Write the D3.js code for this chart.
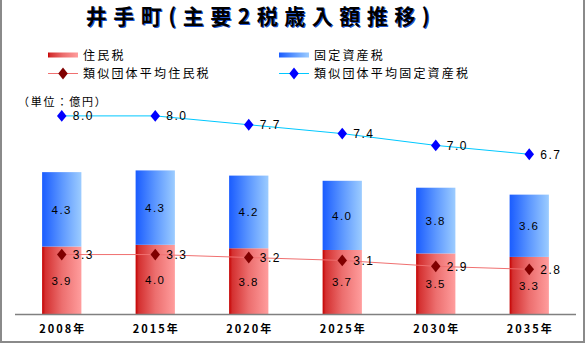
<!DOCTYPE html>
<html><head><meta charset="utf-8">
<script src="https://cdn.jsdelivr.net/npm/d3@7/dist/d3.min.js"></script>
<style>
html,body{margin:0;padding:0;background:#fff;}
text{font-family:"Noto Sans CJK JP","Noto Sans",sans-serif;}
.num{font-family:"Liberation Sans","DejaVu Sans",sans-serif;}
</style></head>
<body>
<svg id="c" width="587" height="344"></svg>
<script>
const years = ["2008年","2015年","2020年","2025年","2030年","2035年"];
const juminzei = [3.9, 4.0, 3.8, 3.7, 3.5, 3.3];
const koteishisanzei = [4.3, 4.3, 4.2, 4.0, 3.8, 3.6];
const avgJuminzei = [3.3, 3.3, 3.2, 3.1, 2.9, 2.8];
const avgKotei = [8.0, 8.0, 7.7, 7.4, 7.0, 6.7];
const titleText = "井手町(主要2税歳入額推移)";
const unitText = "（単位：億円）";
const legendLabels = ["住民税","固定資産税","類似団体平均住民税","類似団体平均固定資産税"];

const svg = d3.select("#c");

const defs = svg.append("defs");
function grad(id, stops){
  const g = defs.append("linearGradient").attr("id", id).attr("x1","0").attr("x2","1").attr("y1","0").attr("y2","0");
  stops.forEach(s => g.append("stop").attr("offset", s[0]).attr("stop-color", s[1]));
}
grad("gRed", [[0,"#c40000"],[0.08,"#d43030"],[0.5,"#ec6e6e"],[1,"#ff9d9d"]]);
grad("gBlue", [[0,"#1a5cff"],[0.5,"#5c97ff"],[1,"#9cccff"]]);

// frame
svg.append("rect").attr("x",1).attr("y",-2).attr("width",583).attr("height",344)
  .attr("fill","none").attr("stroke","#8a8a8a").attr("stroke-width",2);

// scales
const x = d3.scaleBand().domain(years).range([15, 576]).paddingInner(0.58).paddingOuter(0.29);
const y = d3.scaleLinear().domain([0, 14]).range([314, 71.8]);
const y2 = d3.scaleLinear().domain([0, 10]).range([351.9, 56.9]);

// title
const tg = svg.append("g");
[["#2255cc",1,1],["#000",0,0]].forEach(([c,dx,dy]) => {
  tg.append("text").attr("x", 261+dx).attr("y", 24+dy).attr("text-anchor","middle")
    .attr("font-size", 21).attr("font-weight","bold").attr("letter-spacing", 6.5)
    .attr("fill",c).text(titleText);
});

// legend
const lg = svg.append("g").attr("font-size", 12).attr("letter-spacing", 2.2);
lg.append("rect").attr("x",48).attr("y",52.5).attr("width",30).attr("height",5).attr("fill","url(#gRed)");
lg.append("text").attr("x",83).attr("y",59.5).text(legendLabels[0]);
lg.append("rect").attr("x",279).attr("y",52.5).attr("width",30).attr("height",5).attr("fill","url(#gBlue)");
lg.append("text").attr("x",314).attr("y",59.5).text(legendLabels[1]);
const diamond = d3.symbol().type(d3.symbolDiamond).size(40);
lg.append("line").attr("x1",48).attr("x2",78).attr("y1",73.5).attr("y2",73.5).attr("stroke","#f07070").attr("stroke-width",1);
lg.append("path").attr("d", diamond).attr("transform","translate(63,73.5) scale(1.4,1)").attr("fill","#800000");
lg.append("text").attr("x",83).attr("y",78).text(legendLabels[2]);
lg.append("line").attr("x1",279).attr("x2",309).attr("y1",73.5).attr("y2",73.5).attr("stroke","#00c8ff").attr("stroke-width",1);
lg.append("path").attr("d", diamond).attr("transform","translate(294,73.5) scale(1.4,1)").attr("fill","#0000ff");
lg.append("text").attr("x",314).attr("y",78).text(legendLabels[3]);

// unit
svg.append("text").attr("x",18).attr("y",106).attr("font-size",11).attr("letter-spacing",1.8).text(unitText);

// bars
const bw = x.bandwidth();
const gb = svg.append("g");
years.forEach((yr, i) => {
  const r = juminzei[i], b = koteishisanzei[i];
  gb.append("rect").attr("x", x(yr)).attr("width", bw).attr("y", y(r)).attr("height", y(0)-y(r)).attr("fill","url(#gRed)");
  gb.append("rect").attr("x", x(yr)).attr("width", bw).attr("y", y(r+b)).attr("height", y(r)-y(r+b)).attr("fill","url(#gBlue)");
  gb.append("text").attr("class","num").attr("x", x(yr)+bw/2).attr("y", (y(0)+y(r))/2 + 4.5).attr("text-anchor","middle")
    .attr("font-size",11.5).attr("letter-spacing",1.5).text(r.toFixed(1));
  gb.append("text").attr("class","num").attr("x", x(yr)+bw/2).attr("y", (y(r)+y(r+b))/2 + 4.5).attr("text-anchor","middle")
    .attr("font-size",11.5).attr("letter-spacing",1.5).text(b.toFixed(1));
});

// axis line
svg.append("line").attr("x1",15).attr("x2",576).attr("y1",314.5).attr("y2",314.5).attr("stroke","#808080").attr("stroke-width",1.5);
// x labels
svg.append("g").selectAll("text").data(years).join("text")
  .attr("x", d => x(d)+bw/2+1).attr("y", 333).attr("text-anchor","middle")
  .attr("font-size",11).attr("font-weight","bold").attr("letter-spacing",2).text(d => d);

// lines
function drawLine(vals, lineColor, markColor){
  const g = svg.append("g");
  const ln = d3.line().x((d,i)=>x(years[i])+bw/2).y(d=>y2(d));
  g.append("path").attr("d", ln(vals)).attr("fill","none").attr("stroke", lineColor).attr("stroke-width",1);
  vals.forEach((v,i)=>{
    const cx = x(years[i])+bw/2, cy = y2(v);
    g.append("path").attr("d", diamond).attr("transform",`translate(${cx},${cy}) scale(1.4,1)`).attr("fill", markColor);
    g.append("text").attr("class","num").attr("x", cx+11).attr("y", cy+4.5).attr("font-size",12).attr("letter-spacing",1.5).text(v.toFixed(1));
  });
}
drawLine(avgJuminzei, "#f07070", "#800000");
drawLine(avgKotei, "#00c8ff", "#0000ff");
</script>
</body></html>
